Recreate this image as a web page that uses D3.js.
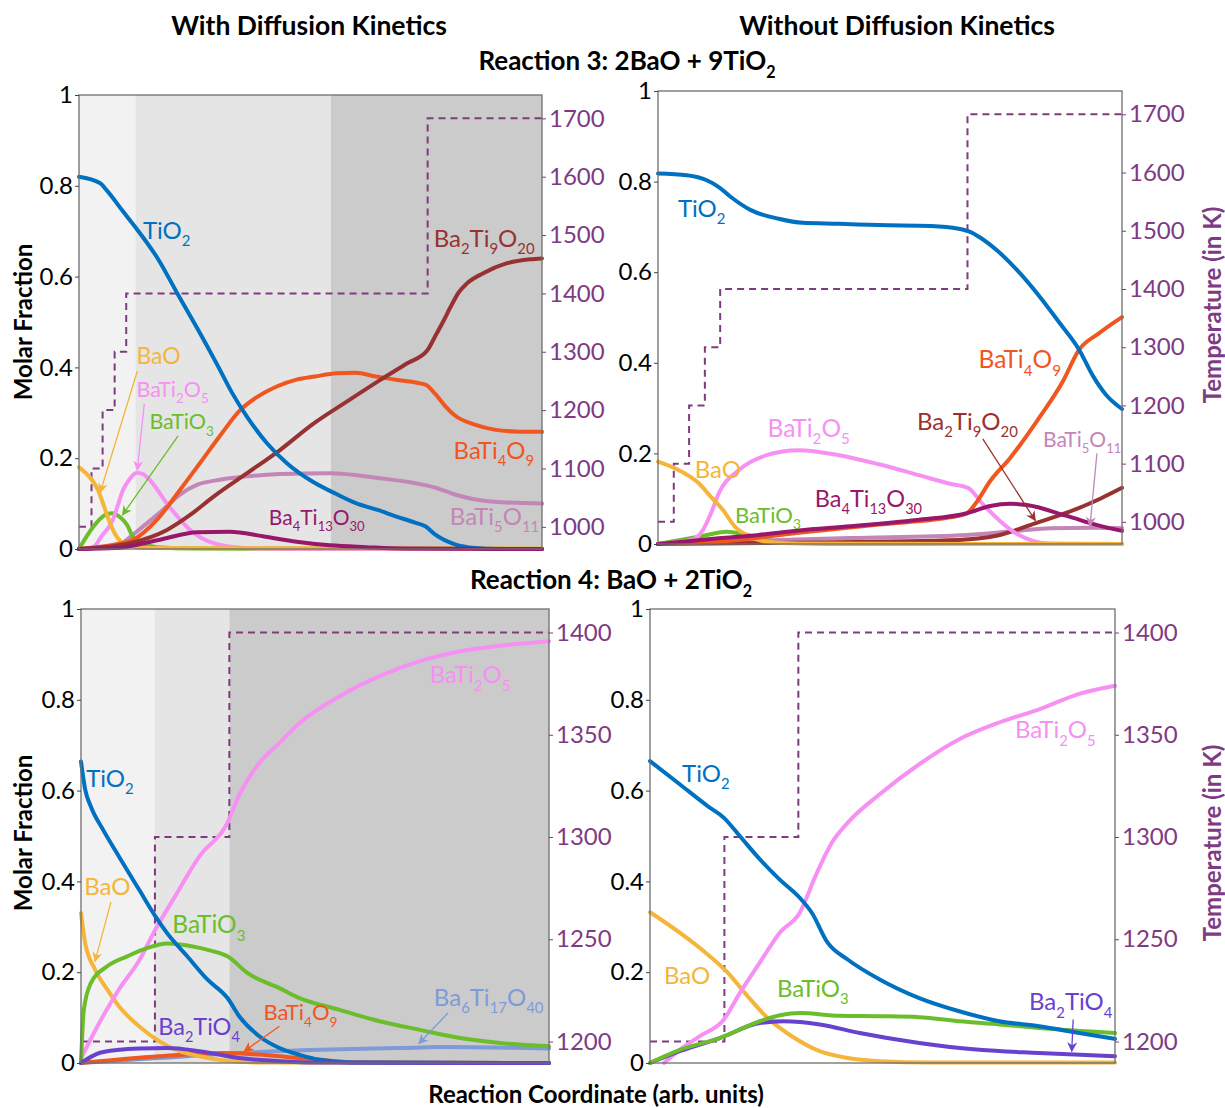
<!DOCTYPE html>
<html lang="en">
<head>
<meta charset="utf-8">
<title>BaO - TiO2 reaction pathways</title>
<script src="https://d3js.org/d3.v7.min.js"></script>
<style>
  body { margin: 0; background: #fff; }
  svg text { font-family: Lato, "Open Sans", sans-serif; }
</style>
</head>
<body>
<script>
// x = reaction coordinate (arb. units, 0-100), y = molar fraction

// ---- Reaction 3, with diffusion kinetics (top left)
var tlTiO2 = [[0,0.82],[4.5,0.806],[6,0.79],[9.4,0.745],[12.4,0.706],[17,0.64],[21.4,0.56],[25.6,0.485],[29.9,0.405],[33,0.345],[36.3,0.291],[40.6,0.233],[44.9,0.189],[50.5,0.148],[55.6,0.121],[59.8,0.101],[64.5,0.086],[68.4,0.072],[72.6,0.058],[74.8,0.05],[76.9,0.032],[81.2,0.01],[85.5,0.002],[90,0],[100,0]];
var tlBaO = [[0,0.18],[2.8,0.152],[4.1,0.13],[5.2,0.1],[6.7,0.057],[8.2,0.026],[10.4,0.009],[14.7,0.002],[100,0.001]];
var tlBaTi2O5 = [[0,0],[3,0.004],[5,0.03],[7.3,0.064],[8.5,0.1],[9.5,0.13],[11,0.155],[12.5,0.168],[13.8,0.165],[15.3,0.152],[19,0.1],[24,0.042],[29,0.013],[35,0.003],[45,0],[100,0]];
var tlBaTiO3 = [[0,0],[3,0.048],[5.6,0.075],[7.1,0.079],[8.9,0.07],[10.4,0.053],[11.7,0.026],[13.8,0.013],[16.8,0.004],[25,0.001],[100,0]];
var tlBaTi4O9 = [[0,0],[7.3,0.009],[11.7,0.02],[16.8,0.064],[21.8,0.13],[26.1,0.189],[30.5,0.25],[34.8,0.306],[38.5,0.335],[42.7,0.358],[47,0.373],[51,0.38],[55.6,0.387],[59.8,0.388],[64.1,0.38],[68.4,0.373],[74.8,0.362],[76.9,0.342],[79,0.316],[81.2,0.294],[85.5,0.274],[89.7,0.263],[94,0.259],[100,0.258]];
var tlBa2Ti9O20 = [[0,0],[11,0.013],[19,0.042],[24,0.075],[29,0.115],[36.3,0.167],[43.4,0.218],[50.5,0.275],[57.9,0.325],[65,0.372],[70.9,0.409],[75.2,0.437],[76.9,0.468],[78.6,0.5],[80.3,0.534],[82,0.565],[83.8,0.585],[87.2,0.607],[92.3,0.629],[97.4,0.638],[100,0.64]];
var tlBaTi5O11 = [[0,0],[8.5,0.008],[11,0.026],[14.7,0.057],[18.1,0.086],[21.8,0.12],[25.6,0.142],[29,0.15],[36.3,0.16],[43.4,0.165],[54.2,0.167],[65,0.156],[72.6,0.145],[77,0.135],[81.2,0.12],[85,0.11],[89.7,0.104],[100,0.1]];
var tlBa4Ti13O30 = [[0,0],[8,0.002],[12.8,0.01],[18.1,0.022],[25.5,0.037],[32.6,0.038],[39.7,0.028],[47,0.016],[54.2,0.008],[62,0.004],[70,0.001],[100,0]];
var tlTemp = [[0,1000],[2.7,1100],[5.1,1200],[7.7,1300],[10.2,1400],[75.3,1700]];
var tlBands = [0, 12.2, 54.4, 100];

// ---- Reaction 3, without diffusion kinetics (top right)
var trTiO2 = [[0,0.818],[6.2,0.814],[10.5,0.803],[13.1,0.788],[15.7,0.766],[20,0.737],[26,0.718],[31.2,0.709],[39,0.707],[47.6,0.704],[58.8,0.702],[64.8,0.696],[67.5,0.688],[69.5,0.676],[73.4,0.645],[77.8,0.6],[82.1,0.548],[86.4,0.49],[90.7,0.43],[93.8,0.37],[96.5,0.33],[100,0.298]];
var trBaO = [[0,0.182],[4.5,0.163],[8.8,0.134],[11.4,0.104],[14,0.075],[16.6,0.038],[19.1,0.02],[23.4,0.005],[30,0.001],[100,0]];
var trBaTi2O5 = [[0,0],[7.1,0.009],[9.7,0.031],[11.5,0.07],[13.1,0.112],[17.4,0.163],[23.4,0.196],[30.3,0.207],[39,0.196],[47.6,0.176],[56.2,0.152],[62.9,0.133],[66.8,0.124],[70,0.088],[73.7,0.051],[77.4,0.022],[80.8,0.007],[84.5,0.001],[100,0]];
var trBaTiO3 = [[0,0],[8.8,0.016],[14.8,0.027],[18.3,0.022],[23.4,0.009],[30.3,0.002],[40,0],[100,0]];
var trBaTi4O9 = [[0,0],[13.1,0.005],[30.3,0.025],[47.6,0.043],[64.8,0.062],[66.6,0.068],[68.5,0.09],[71.6,0.139],[75.9,0.19],[81.7,0.272],[87.3,0.36],[90.7,0.428],[95,0.465],[100,0.501]];
var trBa4Ti13O30 = [[0,0],[13.1,0.0125],[21.7,0.02],[30.3,0.03],[41.4,0.039],[55.8,0.053],[66.6,0.068],[71.6,0.084],[75.9,0.089],[79.5,0.086],[88.1,0.062],[95.3,0.04],[100,0.029]];
var trBa2Ti9O20 = [[0,0],[30.3,0.003],[64.8,0.009],[69,0.012],[73.7,0.02],[80.8,0.044],[88.1,0.069],[95.3,0.1],[100,0.124]];
var trBaTi5O11 = [[0,0],[13.1,0.005],[41.4,0.013],[66.6,0.02],[77.4,0.029],[84.5,0.035],[93.8,0.036],[100,0.035]];
var trTemp = [[0,1000],[3.4,1100],[6.7,1200],[10.1,1300],[13.4,1400],[66.7,1700]];

// ---- Reaction 4, with diffusion kinetics (bottom left)
var blTiO2 = [[0,0.664],[0.9,0.602],[2.1,0.565],[4.7,0.514],[8.1,0.455],[12.4,0.382],[15.9,0.323],[18.4,0.286],[22.7,0.235],[27,0.184],[31.3,0.143],[33.8,0.103],[38.1,0.059],[42.4,0.033],[46.7,0.018],[51,0.007],[58,0.001],[100,0]];
var blBaO = [[0,0.33],[0.9,0.264],[3,0.206],[5.6,0.162],[8.1,0.125],[12.4,0.081],[16.7,0.048],[21,0.026],[25.3,0.015],[30.4,0.006],[38,0.001],[100,0]];
var blBaTi2O5 = [[0,0.01],[3.9,0.088],[8.1,0.162],[12.4,0.225],[15.9,0.294],[20.1,0.367],[25.3,0.455],[31.3,0.529],[33.8,0.59],[38.1,0.661],[42.4,0.705],[46.7,0.749],[55.3,0.808],[63.8,0.852],[72.4,0.885],[81,0.907],[89.5,0.919],[100,0.929]];
var blBaTiO3 = [[0,0],[0.6,0.117],[2.1,0.176],[5.6,0.213],[9.9,0.235],[14.1,0.253],[18.4,0.263],[23.6,0.257],[27.5,0.248],[31.3,0.235],[35.6,0.198],[42.4,0.165],[46.7,0.143],[55.3,0.117],[63.8,0.092],[72.4,0.073],[81,0.055],[89.5,0.044],[100,0.037]];
var blBa2TiO4 = [[0,0],[3.9,0.022],[8.1,0.029],[13,0.032],[18.4,0.033],[25.3,0.026],[33.8,0.011],[42.4,0.004],[50,0.001],[100,0]];
var blBaTi4O9 = [[0,0],[16.7,0.015],[30.4,0.022],[36,0.02],[42.4,0.015],[51,0.007],[60,0.001],[100,0]];
var blBa6Ti17O40 = [[0,0],[16.7,0.011],[33.8,0.022],[51,0.029],[68.1,0.033],[76.7,0.035],[100,0.032]];
var blTemp = [[0,1200],[15.8,1300],[31.7,1400]];
var blBands = [0, 15.7, 31.7, 100];

// ---- Reaction 4, without diffusion kinetics (bottom right)
var brTiO2 = [[0,0.665],[6.4,0.614],[12.4,0.566],[15.9,0.54],[19.3,0.5],[23.6,0.449],[27.9,0.404],[32.2,0.364],[34.8,0.331],[38.2,0.265],[42.5,0.228],[49.4,0.184],[57.9,0.143],[66.5,0.114],[75.1,0.092],[83.7,0.081],[92.3,0.066],[100,0.053]];
var brBaO = [[0,0.332],[6.4,0.287],[12.4,0.239],[16.7,0.199],[21,0.147],[25.3,0.099],[30.5,0.059],[36.5,0.026],[42.5,0.011],[49.4,0.004],[60,0.001],[100,0.001]];
var brBaTi2O5 = [[3,0],[6.4,0.029],[10.7,0.059],[15.9,0.096],[19.3,0.154],[23.6,0.221],[27.9,0.287],[32.2,0.331],[35.6,0.412],[39.1,0.485],[42.5,0.529],[49.4,0.592],[57.9,0.658],[66.5,0.713],[75.1,0.75],[83.7,0.779],[92.3,0.813],[100,0.831]];
var brBaTiO3 = [[0,0],[6.4,0.029],[15,0.055],[23.6,0.092],[28,0.105],[32.2,0.11],[40.8,0.104],[49.4,0.103],[57.9,0.101],[66.5,0.092],[75.1,0.085],[83.7,0.077],[100,0.066]];
var brBa2TiO4 = [[0,0],[6.4,0.026],[15,0.055],[23.6,0.088],[28.8,0.092],[36.5,0.085],[45.1,0.066],[57.9,0.044],[70.8,0.029],[83.7,0.022],[100,0.015]];
var brTemp = [[0,1200],[16,1300],[31.9,1400]];

// tick labels
var molarTicks = [0, 0.2, 0.4, 0.6, 0.8, 1];
var tempTicks3 = [1000, 1100, 1200, 1300, 1400, 1500, 1600, 1700];
var tempTicks4 = [1200, 1250, 1300, 1350, 1400];

var colors = {
  TiO2: "#0070c0", BaO: "#f4b53a", BaTi2O5: "#f690f3", BaTiO3: "#6cbd2c",
  BaTi4O9: "#f0561f", Ba2Ti9O20: "#983232", BaTi5O11: "#c386b6", Ba4Ti13O30: "#98176a",
  Ba2TiO4: "#6841cf", Ba6Ti17O40: "#7e9ad9"
};
var tempColor = "#7e3c7e";
var axisPurple = "#7e3a84";
var bandFills = ["#f2f2f2", "#e5e5e5", "#cbcbcb"];

var W = 1225, H = 1108;
var svg = d3.select("body").append("svg").attr("width", W).attr("height", H);
var defs = svg.append("defs");

// one arrowhead marker per colour
Object.keys(colors).forEach(function(k) {
  defs.append("marker")
    .attr("id", "arr-" + k)
    .attr("viewBox", "0 0 10 10").attr("refX", 9).attr("refY", 5)
    .attr("markerWidth", 10).attr("markerHeight", 10)
    .attr("markerUnits", "userSpaceOnUse")
    .attr("orient", "auto")
    .append("path").attr("d", "M0,0L10,5L0,10L3,5z").attr("fill", colors[k]);
});

// chemical formula with subscripts
function addFormula(t, f, size) {
  var parts = f.match(/[A-Z][a-z]?|\d+/g);
  var down = false;
  parts.forEach(function(p) {
    var ts = t.append("tspan").text(p);
    if (/^\d/.test(p)) {
      ts.attr("font-size", size * 0.62);
      if (!down) ts.attr("dy", size * 0.3);
      down = true;
    } else {
      if (down) ts.attr("dy", -size * 0.3);
      down = false;
    }
  });
}

var panels = [
  { box: [79, 95, 542, 549], tDomain: [962, 1740], tTicks: tempTicks3, temp: tlTemp, bands: tlBands, tempTitle: false, titleY: 322,
    series: [["BaTi5O11", tlBaTi5O11], ["BaTiO3", tlBaTiO3], ["BaTi2O5", tlBaTi2O5], ["BaO", tlBaO], ["BaTi4O9", tlBaTi4O9], ["Ba2Ti9O20", tlBa2Ti9O20], ["TiO2", tlTiO2], ["Ba4Ti13O30", tlBa4Ti13O30]],
    labels: [["TiO2", 13.8, 0.683, 24], ["Ba2Ti9O20", 76.6, 0.665, 24], ["BaO", 12.4, 0.407, 23], ["BaTi2O5", 12.4, 0.335, 21.5],
             ["BaTiO3", 15.2, 0.264, 21.5], ["BaTi4O9", 80.9, 0.198, 24], ["Ba4Ti13O30", 41, 0.053, 21], ["BaTi5O11", 80.1, 0.053, 24]],
    arrows: [["BaO", 12.6, 0.392, 4.6, 0.125], ["BaTi2O5", 14.1, 0.32, 12.6, 0.174], ["BaTiO3", 21.4, 0.249, 9.4, 0.075]] },
  { box: [658, 91, 1122, 544], tDomain: [962, 1740], tTicks: tempTicks3, temp: trTemp, bands: null, tempTitle: true, titleY: 305,
    series: [["BaTiO3", trBaTiO3], ["BaTi5O11", trBaTi5O11], ["Ba2Ti9O20", trBa2Ti9O20], ["BaTi2O5", trBaTi2O5], ["BaO", trBaO], ["BaTi4O9", trBaTi4O9], ["Ba4Ti13O30", trBa4Ti13O30], ["TiO2", trTiO2]],
    labels: [["TiO2", 4.3, 0.722, 24], ["BaTi4O9", 69.1, 0.388, 24.5], ["BaTi2O5", 23.6, 0.237, 24.5], ["Ba2Ti9O20", 55.8, 0.251, 24],
             ["BaTi5O11", 83, 0.215, 21], ["BaO", 7.9, 0.145, 24], ["Ba4Ti13O30", 33.8, 0.082, 23.5], ["BaTiO3", 16.6, 0.047, 22]],
    arrows: [["Ba2Ti9O20", 70, 0.232, 81.3, 0.052], ["BaTi5O11", 94.6, 0.2, 93.1, 0.04]] },
  { box: [81, 609, 549, 1063], tDomain: [1189.5, 1411.5], tTicks: tempTicks4, temp: blTemp, bands: blBands, tempTitle: false, titleY: 833,
    series: [["Ba6Ti17O40", blBa6Ti17O40], ["BaTi4O9", blBaTi4O9], ["BaO", blBaO], ["BaTi2O5", blBaTi2O5], ["BaTiO3", blBaTiO3], ["TiO2", blTiO2], ["Ba2TiO4", blBa2TiO4]],
    labels: [["BaTi2O5", 74.5, 0.836, 24], ["TiO2", 1.1, 0.608, 24], ["BaO", 0.7, 0.369, 24], ["BaTiO3", 19.5, 0.286, 24.5],
             ["Ba6Ti17O40", 75.4, 0.125, 24], ["BaTi4O9", 39, 0.094, 22], ["Ba2TiO4", 16.5, 0.062, 23.5]],
    arrows: [["BaO", 6.4, 0.355, 3, 0.224], ["BaTi4O9", 42.4, 0.081, 34.9, 0.026], ["Ba6Ti17O40", 78.4, 0.11, 72.2, 0.043]] },
  { box: [650, 609, 1115, 1063], tDomain: [1189.5, 1411.5], tTicks: tempTicks4, temp: brTemp, bands: null, tempTitle: true, titleY: 843,
    series: [["BaO", brBaO], ["BaTi2O5", brBaTi2O5], ["Ba2TiO4", brBa2TiO4], ["BaTiO3", brBaTiO3], ["TiO2", brTiO2]],
    labels: [["BaTi2O5", 78.5, 0.715, 24], ["TiO2", 6.9, 0.619, 24], ["BaO", 3, 0.174, 24], ["BaTiO3", 27.3, 0.146, 24], ["Ba2TiO4", 81.5, 0.116, 24]],
    arrows: [["Ba2TiO4", 91, 0.096, 90.7, 0.026]] }
];

panels.forEach(function(p) {
  var x0 = p.box[0], y0 = p.box[1], x1 = p.box[2], y1 = p.box[3];
  var x = d3.scaleLinear().domain([0, 100]).range([x0, x1]);
  var y = d3.scaleLinear().domain([0, 1]).range([y1, y0]);
  var t = d3.scaleLinear().domain(p.tDomain).range([y1, y0]);
  var g = svg.append("g");

  // shaded temperature stages
  if (p.bands) {
    for (var i = 0; i < p.bands.length - 1; i++) {
      g.append("rect")
        .attr("x", x(p.bands[i])).attr("y", y0)
        .attr("width", x(p.bands[i + 1]) - x(p.bands[i])).attr("height", y1 - y0)
        .attr("fill", bandFills[i]);
    }
  }

  // temperature profile (dashed step)
  var steps = p.temp.concat([[100, p.temp[p.temp.length - 1][1]]]);
  g.append("path")
    .attr("d", d3.line().curve(d3.curveStepAfter).x(function(d) { return x(d[0]); }).y(function(d) { return t(d[1]); })(steps))
    .attr("fill", "none").attr("stroke", tempColor).attr("stroke-width", 2).attr("stroke-dasharray", "7,5");

  // phase fractions
  var line = d3.line().curve(d3.curveMonotoneX).x(function(d) { return x(d[0]); }).y(function(d) { return y(d[1]); });
  p.series.forEach(function(s) {
    g.append("path").attr("d", line(s[1]))
      .attr("fill", "none").attr("stroke", colors[s[0]]).attr("stroke-width", 4)
      .attr("stroke-linejoin", "round").attr("stroke-linecap", "round");
  });

  // frame
  g.append("rect").attr("x", x0).attr("y", y0).attr("width", x1 - x0).attr("height", y1 - y0)
    .attr("fill", "none").attr("stroke", "#6e6e6e").attr("stroke-width", 1.3);

  // axes
  var la = g.append("g").attr("transform", "translate(" + x0 + ",0)")
    .call(d3.axisLeft(y).tickValues(molarTicks).tickFormat(d3.format("~g")).tickSize(4).tickPadding(2));
  la.select(".domain").remove();
  la.selectAll("text").attr("font-size", 24).attr("fill", "#000").attr("font-family", "Lato");
  la.selectAll("line").attr("stroke", "#444");

  var ra = g.append("g").attr("transform", "translate(" + x1 + ",0)")
    .call(d3.axisRight(t).tickValues(p.tTicks).tickSize(4).tickPadding(3).tickFormat(d3.format("d")));
  ra.select(".domain").remove();
  ra.selectAll("text").attr("font-size", 24).attr("fill", axisPurple).attr("font-family", "Lato");
  ra.selectAll("line").attr("stroke", axisPurple);

  // arrows
  p.arrows.forEach(function(a) {
    g.append("line")
      .attr("x1", x(a[1])).attr("y1", y(a[2])).attr("x2", x(a[3])).attr("y2", y(a[4]))
      .attr("stroke", colors[a[0]]).attr("stroke-width", 1.3)
      .attr("marker-end", "url(#arr-" + a[0] + ")");
  });

  // curve labels
  p.labels.forEach(function(l) {
    var txt = g.append("text").attr("x", x(l[1])).attr("y", y(l[2]))
      .attr("font-size", l[3]).attr("fill", colors[l[0]]);
    addFormula(txt, l[0], l[3]);
  });

  // axis titles
  if (!p.tempTitle) {
    svg.append("text").attr("transform", "translate(32," + p.titleY + ") rotate(-90)")
      .attr("text-anchor", "middle").attr("font-size", 24).attr("font-weight", "bold").text("Molar Fraction");
  } else {
    svg.append("text").attr("transform", "translate(1221," + p.titleY + ") rotate(-90)")
      .attr("text-anchor", "middle").attr("font-size", 24).attr("font-weight", "bold")
      .attr("fill", axisPurple).text("Temperature (in K)");
  }
});

// headings
function heading(xc, yb, size, parts) {
  var tx = svg.append("text").attr("x", xc).attr("y", yb).attr("text-anchor", "middle")
    .attr("font-size", size).attr("font-weight", "bold");
  parts.forEach(function(p) {
    var ts = tx.append("tspan").text(p[0]);
    if (p[1] === "sub") ts.attr("font-size", size * 0.62).attr("dy", size * 0.3);
  });
  return tx;
}
heading(309, 35, 26.5, [["With Diffusion Kinetics"]]);
heading(897, 35, 26.5, [["Without Diffusion Kinetics"]]);
heading(627, 70, 26, [["Reaction 3: 2BaO + 9TiO"], ["2", "sub"]]);
heading(611, 589, 26, [["Reaction 4: BaO + 2TiO"], ["2", "sub"]]);
heading(596, 1103, 24, [["Reaction Coordinate (arb. units)"]]);
</script>
</body>
</html>
